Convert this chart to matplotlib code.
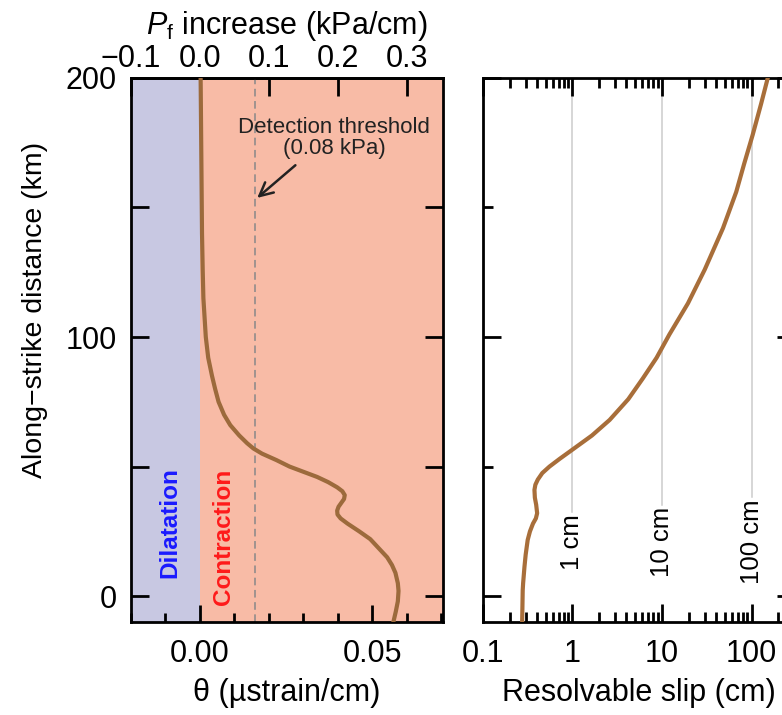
import numpy as np
import matplotlib
matplotlib.use("Agg")
import matplotlib.pyplot as plt
from matplotlib.ticker import MultipleLocator, LogLocator, NullFormatter

plt.rcParams['font.family'] = ['Liberation Sans', 'DejaVu Sans']
plt.rcParams['mathtext.fontset'] = 'custom'
plt.rcParams['mathtext.rm'] = 'Liberation Sans'
plt.rcParams['mathtext.it'] = 'Liberation Sans:italic'

# strain change along strike
dist_theta = [200, 185, 170, 155, 140, 126, 115, 100, 92, 85, 80, 75, 70, 66, 62, 59,
              57, 55, 52.5, 50, 48, 46, 44, 42, 40.5, 39, 37.5, 36, 34.5, 33, 31.5,
              30, 28, 25, 22, 18, 15, 12, 9, 5, 2, -2, -6, -10]
theta = [0.0002, 0.0003, 0.0004, 0.0005, 0.0006, 0.0008, 0.0010, 0.0017, 0.0024,
         0.0035, 0.0044, 0.0054, 0.0070, 0.0088, 0.0114, 0.0137, 0.0155, 0.0180,
         0.0222, 0.0260, 0.0300, 0.0340, 0.0372, 0.0398, 0.0413, 0.0420, 0.0418,
         0.0410, 0.0402, 0.0398, 0.0399, 0.0408, 0.0428, 0.0462, 0.0494, 0.0522,
         0.0543, 0.0557, 0.0567, 0.0574, 0.0576, 0.0574, 0.0568, 0.0561]

# resolvable slip along strike
dist_slip = [200, 190, 178, 167, 156, 142, 126, 113, 101, 92, 84, 76, 68, 62, 56, 53,
             50, 47.5, 45, 43, 41, 38, 35.3, 32, 30, 28, 25, 21.7, 16, 11.4, 5, 2.3,
             -4, -10]
slip = [152, 128, 103, 83, 67.5, 48, 30, 19.5, 12.1, 8.7, 6.1, 4.2, 2.6, 1.65, 0.95,
        0.72, 0.553, 0.46, 0.41, 0.385, 0.376, 0.38, 0.393, 0.403, 0.39, 0.362, 0.335,
        0.316, 0.30, 0.291, 0.281, 0.278, 0.276, 0.274]

threshold_kpa = 0.08
kpa_per_strain = 5.0
slip_marks = [1, 10, 100]
slip_mark_labels = ['1 cm', '10 cm', '100 cm']

blue_bg = '#c8c8e2'
orange_bg = '#f8bba6'
brown = '#9c6a3c'
brown2 = '#a86e3a'

fig = plt.figure(figsize=(7.82, 7.15), dpi=100)
ax1 = fig.add_axes([0.1675, 0.130, 0.399, 0.761])
ax2 = fig.add_axes([0.6176, 0.130, 0.399, 0.761])

# ---- left panel
ax1.set_xlim(-0.02, 0.0705)
ax1.set_ylim(-10, 200)
ax1.axvspan(-0.02, 0, color=blue_bg, lw=0, zorder=0)
ax1.axvspan(0, 0.0705, color=orange_bg, lw=0, zorder=0)
ax1.axvline(threshold_kpa / kpa_per_strain, color='#888888', ls=(0, (5, 3)), lw=1.1, zorder=1)
ax1.plot(theta, dist_theta, color=brown, lw=3, zorder=3)

ax1.text(-0.0087, 28.5, 'Dilatation', color='#1a1aff', fontsize=17.5, fontweight='bold',
         rotation=90, ha='center', va='center')
ax1.text(0.0067, 22.7, 'Contraction', color='#ff1a1a', fontsize=17.5, fontweight='bold',
         rotation=90, ha='center', va='center')
ax1.text(0.039, 177, 'Detection threshold\n(0.08 kPa)', fontsize=16, color='#222222',
         ha='center', va='center', linespacing=1.0)
ax1.annotate('', xy=(threshold_kpa / kpa_per_strain, 153), xytext=(0.0283, 167),
             arrowprops=dict(arrowstyle='->', color='#222222', lw=1.8,
                             mutation_scale=24))

ax1.set_xticks([0, 0.05], labels=['0.00', '0.05'])
ax1.xaxis.set_minor_locator(MultipleLocator(0.01))
ax1.set_yticks([0, 100, 200], labels=['0', '100', '200'])
ax1.yaxis.set_minor_locator(MultipleLocator(50))
ax1.tick_params(axis='y', which='both', direction='in', length=13, width=2,
                left=True, right=True, labelsize=22, pad=10)
ax1.tick_params(axis='x', which='major', direction='in', length=12, width=2,
                labelsize=22, pad=12)
ax1.tick_params(axis='x', which='minor', direction='in', length=6.5, width=2)
ax1.set_xlabel('θ (µstrain/cm)', fontsize=22, labelpad=7)
ax1.set_ylabel('Along\u2212strike distance (km)', fontsize=20.5)
ax1.yaxis.set_label_coords(-0.265, 0.574)

secax = ax1.secondary_xaxis('top', functions=(lambda x: x * kpa_per_strain,
                                              lambda x: x / kpa_per_strain))
secax.set_xticks([-0.1, 0, 0.1, 0.2, 0.3],
                 labels=['\u22120.1', '0.0', '0.1', '0.2', '0.3'])
secax.tick_params(direction='in', length=13, width=2, labelsize=22, pad=3)
secax.set_xlabel(r'$P_\mathrm{f}$ increase (kPa/cm)', fontsize=22, labelpad=7)

# ---- right panel
ax2.set_xscale('log')
ax2.set_xlim(0.1, 306)
ax2.set_ylim(-10, 200)
ax2.plot(slip, dist_slip, color=brown2, lw=3, zorder=3)
ax2.set_xticks([0.1, 1, 10, 100], labels=['0.1', '1', '10', '100'])
ax2.xaxis.set_minor_locator(LogLocator(base=10, subs=np.arange(2, 10)))
ax2.xaxis.set_minor_formatter(NullFormatter())
ax2.set_yticks([0, 100, 200], labels=[])
ax2.yaxis.set_minor_locator(MultipleLocator(50))
ax2.tick_params(axis='both', which='major', direction='in', length=13, width=2,
                top=True, right=True, labelsize=22, pad=12)
ax2.tick_params(axis='both', which='minor', direction='in', length=7, width=2,
                top=True, right=True)
ax2.set_xlabel('Resolvable slip (cm)', fontsize=22, labelpad=7)

mark_texts = []
for xv, lab in zip(slip_marks, slip_mark_labels):
    t = ax2.text(xv, 21, lab, rotation=90, ha='center', va='center', fontsize=18.5)
    mark_texts.append(t)

for ax in (ax1, ax2):
    for sp in ax.spines.values():
        sp.set_linewidth(2)
for sp in secax.spines.values():
    sp.set_linewidth(2)

# grey guide lines run from above each label to the top of the panel
fig.canvas.draw()
inv = ax2.transData.inverted()
for xv, t in zip(slip_marks, mark_texts):
    bb = t.get_window_extent()
    top = inv.transform((bb.x0, bb.y1 + 2))[1]
    ax2.plot([xv, xv], [top, 200], color='#cccccc', lw=1.1, zorder=1)

fig.savefig('out.png', dpi=100)
